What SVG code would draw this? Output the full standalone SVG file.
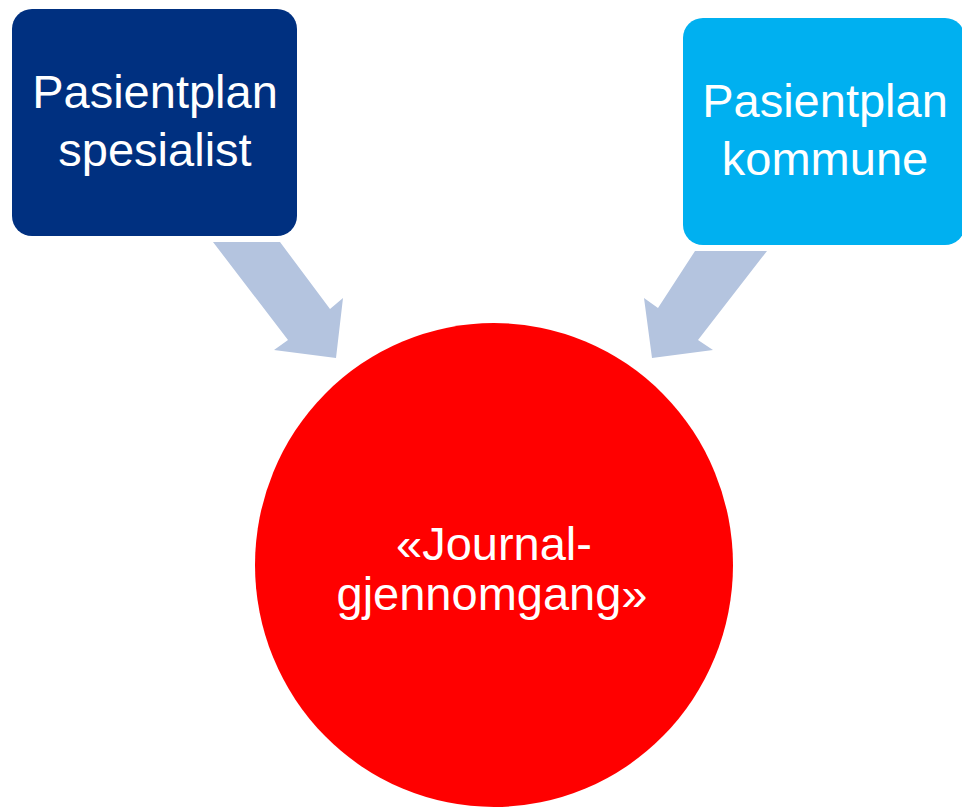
<svg xmlns="http://www.w3.org/2000/svg" width="962" height="808" viewBox="0 0 962 808">
<style>
.lbl{font-family:"Liberation Sans",Arial,sans-serif;font-size:47px;fill:#ffffff;text-anchor:middle}
.arrow{fill:#b4c4df}
</style>
<rect width="962" height="808" fill="#ffffff"/>
<g id="connectors">
<polygon class="arrow" points="213,242 280,242 330,309 343,298 336,358 274,350 288,340"/>
<polygon class="arrow" points="695,251 767,251 698,340 713,350 652,358 644,298 658,308"/>
</g>
<g id="node-spesialist">
<rect x="12" y="9" width="285" height="227" rx="20" ry="20" fill="#003080"/>
<text class="lbl" x="155" y="108">Pasientplan</text>
<text class="lbl" x="155" y="166">spesialist</text>
</g>
<g id="node-kommune">
<rect x="683" y="18" width="282" height="227" rx="20" ry="20" fill="#00b0f0"/>
<text class="lbl" x="825" y="117">Pasientplan</text>
<text class="lbl" x="825" y="175">kommune</text>
</g>
<g id="node-journal">
<ellipse cx="494" cy="565" rx="239" ry="242" fill="#ff0000"/>
<text class="lbl" x="494" y="560">«Journal-</text>
<text class="lbl" x="492" y="610">gjennomgang»</text>
</g>
</svg>
